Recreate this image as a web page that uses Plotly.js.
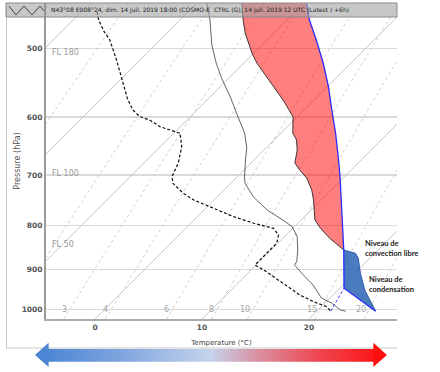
<!DOCTYPE html>
<html><head><meta charset="utf-8">
<script src="https://cdn.plot.ly/plotly-3.0.1.min.js"></script>
<style>html,body{margin:0;padding:0;background:#fff}#chart{width:440px;height:372px}</style>
</head><body><div id="chart"></div>
<script>
// ---- data (pressure hPa, temperature °C) ----
const envP = [440, 463.9, 480.1, 491.3, 506.3, 520.0, 546.4, 573.6, 599.7, 604.9, 626.2, 637.9, 655.1, 678.1, 690.8, 705.6, 728.5, 748.1, 771.7, 788.9, 806.5, 828.2, 854.3, 858.8, 861.8, 872.7, 908.1, 950.1, 1005];
const envT = [-16.1, -14.1, -12.7, -11.6, -10.2, -8.8, -5.8, -2.9, -0.4, -0.1, 1.1, 2.1, 3.1, 4.1, 5.2, 6.6, 8.2, 9.3, 10.5, 11.3, 12.6, 14.4, 16.8, 17.7, 18.2, 18.9, 20.5, 22.5, 25.5];
const parcelP = [1005, 945.7, 854.3, 754.0, 703.2, 672.7, 626.2, 589.1, 553.7, 520.0, 489.1, 463.9, 440];
const parcelT = [25.5, 20.4, 16.8, 12.2, 9.6, 7.9, 5.1, 2.6, 0.1, -2.6, -5.4, -7.9, -10.1];
const dewP = [454.1, 463.9, 478.5, 489.1, 515.8, 536.8, 553.7, 571.1, 589.1, 599.7, 604.9, 615.8, 626.7, 649.4, 678.1, 703.2, 715.7, 734.9, 748.1, 764.7, 782.0, 795.8, 806.5, 820.9, 839.2, 861.8, 889.0, 900.9, 933.3, 962.7, 980.0, 988.7, 993.1, 1005];
const dewT = [-28.5, -27.6, -26.0, -24.7, -22.2, -20.4, -19.0, -17.6, -16.0, -14.7, -13.5, -11.9, -9.4, -8.0, -6.8, -6.1, -5.4, -3.5, -1.9, 0.7, 3.4, 5.9, 8.2, 9.3, 9.9, 9.9, 9.9, 11.2, 14.3, 16.9, 18.8, 20.0, 20.5, 21.3];
const wetP = [440, 463.9, 495.6, 520.0, 541.1, 569.1, 600.3, 626.2, 651.6, 672.7, 703.7, 715.1, 742.1, 768.2, 788.9, 803.1, 824.6, 854.3, 881.3, 889.0, 908.1, 937.5, 970.4, 983.4, 1001.9, 1005];
const wetT = [-19.4, -17.2, -14.7, -12.6, -10.7, -8.1, -5.5, -3.4, -1.8, -0.8, 0.7, 1.3, 3.4, 5.9, 8.3, 9.8, 11.2, 12.5, 13.5, 13.6, 15.0, 17.2, 19.2, 20.6, 22.1, 22.7];
const lfcP = 854.3, lclP = 945.7;
const pressureTicks = [500, 600, 700, 800, 900, 1000];
const tempTicks = [0, 10, 20];
const isotherms = [-80, -70, -60, -50, -40, -30, -20, -10, 0, 10, 20, 30, 40];
const mixingRatios = [0.5, 1, 2, 3, 4, 6, 8, 10, 15, 20];
const mixingLabels = [3, 4, 6, 8, 10, 15, 20];
const flNames = ['FL 180', 'FL 100', 'FL 50'];
const flP = [506, 697, 843];
const headerText = 'N43°08 E008°24, dim. 14 juil. 2019 18:00 (COSMO-E  CTRL (G), 14 juil. 2019 12 UTC (Latest ) +6h)';

// ---- skew-T transform ----
const PB = 1026.1, PT = 443.4, K = 35.2;
const skew = (t, p) => t + K * Math.log(PB / p);
const tdMix = (w, p) => { const e = w * p / (622 + w); const l = Math.log(e / 6.112); return 243.5 * l / (17.67 - l); };

// pixel helpers for decorations
const L = 46, R = 397, TOP = 3, B = 319;
const fx = px => (px - L) / (R - L), fy = py => (B - py) / (B - TOP);

const traces = [];
{ const x = [], y = [];
  isotherms.forEach(t => { x.push(skew(t, PB), skew(t, 430), null); y.push(PB, 430, null); });
  traces.push({x, y, mode: 'lines', line: {color: '#cacaca', width: 1}, hoverinfo: 'skip'}); }
{ const x = [], y = [];
  mixingRatios.forEach(w => { for (let p = PB; p >= 430; p -= 8) { x.push(skew(tdMix(w, p), p)); y.push(p); } x.push(null); y.push(null); });
  traces.push({x, y, mode: 'lines', line: {color: '#c2c2c2', width: 0.8, dash: '3px,3px'}, hoverinfo: 'skip'}); }

{ const x = [], y = [];
  envP.forEach((p, i) => { if (p <= lfcP) { x.push(skew(envT[i], p)); y.push(p); } });
  parcelP.forEach((p, i) => { if (p <= lfcP) { x.push(skew(parcelT[i], p)); y.push(p); } });
  traces.push({x, y, mode: 'lines', fill: 'toself', fillcolor: 'rgba(255,0,0,0.5)', line: {width: 0}, hoverinfo: 'skip'}); }
{ const x = [], y = [];
  envP.forEach((p, i) => { if (p >= lfcP) { x.push(skew(envT[i], p)); y.push(p); } });
  parcelP.forEach((p, i) => { if (p >= lfcP) { x.push(skew(parcelT[i], p)); y.push(p); } });
  traces.push({x, y, mode: 'lines', fill: 'toself', fillcolor: 'rgba(30,90,175,0.8)', line: {width: 0}, hoverinfo: 'skip'}); }

traces.push({x: wetP.map((p, i) => skew(wetT[i], p)), y: wetP, mode: 'lines', line: {color: '#222', width: 0.7}, hoverinfo: 'skip'});
traces.push({x: dewP.map((p, i) => skew(dewT[i], p)), y: dewP, mode: 'lines', line: {color: '#111', width: 1.2, dash: '3px,2px'}, hoverinfo: 'skip'});
{ const ia = envP.map((p, i) => i).filter(i => envP[i] <= lfcP), ib = envP.map((p, i) => i).filter(i => envP[i] >= lfcP);
  traces.push({x: ia.map(i => skew(envT[i], envP[i])), y: ia.map(i => envP[i]), mode: 'lines', line: {color: '#111', width: 0.8}, hoverinfo: 'skip'});
  traces.push({x: ib.map(i => skew(envT[i], envP[i])), y: ib.map(i => envP[i]), mode: 'lines', line: {color: '#2f5fae', width: 1}, hoverinfo: 'skip'}); }
traces.push({x: parcelP.map((p, i) => skew(parcelT[i], p)), y: parcelP, mode: 'lines', line: {color: '#2a2aff', width: 1.3}, hoverinfo: 'skip'});
{ const iL = parcelP.indexOf(lclP), n = dewP.length - 1;
  traces.push({x: [skew(dewT[n], dewP[n]), skew(parcelT[iL], lclP)], y: [dewP[n], lclP], mode: 'lines', line: {color: '#3b3bff', width: 1, dash: '3px,2px'}, hoverinfo: 'skip'}); }

// ---- shapes ----
const shapes = [];
shapes.push({type: 'line', xref: 'paper', yref: 'paper', x0: fx(6.5), x1: fx(6.5), y0: fy(3), y1: fy(348), line: {color: '#c8c8c8', width: 1}});
shapes.push({type: 'line', xref: 'paper', yref: 'paper', x0: fx(6), x1: fx(397), y0: fy(348), y1: fy(348), line: {color: '#c8c8c8', width: 1}});
shapes.push({type: 'rect', xref: 'paper', yref: 'paper', x0: fx(6), x1: fx(397), y0: fy(17), y1: fy(3), fillcolor: 'rgba(164,164,164,0.6)', line: {color: '#8a8a8a', width: 1}});
shapes.push({type: 'line', xref: 'paper', yref: 'paper', x0: fx(45.5), x1: fx(45.5), y0: fy(3), y1: fy(17), line: {color: '#8a8a8a', width: 1}});
{ const zz = [[9, 6], [16, 15], [24, 6], [32, 15], [40, 6], [44, 11]];
  shapes.push({type: 'path', xref: 'paper', yref: 'paper', path: 'M' + zz.map(q => fx(q[0]) + ',' + fy(q[1])).join(' L'), line: {color: '#444', width: 1}}); }
{ const iF = parcelP.indexOf(lfcP), iL = parcelP.indexOf(lclP);
  shapes.push({type: 'line', xref: 'x', yref: 'y', xsizemode: 'pixel', xanchor: skew(parcelT[iF], lfcP), x0: 0, x1: 20, y0: Math.log10(lfcP), y1: Math.log10(lfcP), line: {color: '#333', width: 1}});
  shapes.push({type: 'line', xref: 'x', yref: 'y', xsizemode: 'pixel', xanchor: skew(parcelT[iL], lclP), x0: 0, x1: 28, y0: Math.log10(lclP), y1: Math.log10(lclP), line: {color: '#333', width: 1}}); }
const stops = [[0, [70, 130, 210]], [0.25, [128, 165, 222]], [0.5, [198, 212, 236]], [0.62, [215, 150, 168]], [0.8, [238, 72, 82]], [1, [255, 12, 12]]];
function col(t) {
  for (let i = 1; i < stops.length; i++) if (t <= stops[i][0]) {
    const a = stops[i - 1], b = stops[i], f = (t - a[0]) / (b[0] - a[0]);
    return 'rgb(' + a[1].map((v, k) => Math.round(v + (b[1][k] - v) * f)).join(',') + ')';
  }
  return 'rgb(255,12,12)';
}
for (let px = 48; px < 373.5; px += 2) {
  shapes.push({type: 'rect', xref: 'paper', yref: 'paper', x0: fx(px), x1: fx(px + 2.6), y0: fy(361.7), y1: fy(349), fillcolor: col((px + 1 - 35) / 352), line: {width: 0}});
}
shapes.push({type: 'path', xref: 'paper', yref: 'paper', path: `M${fx(35)},${fy(355)} L${fx(48.6)},${fy(342.7)} L${fx(48.6)},${fy(366.9)} Z`, fillcolor: col(0.02), line: {width: 0}});
shapes.push({type: 'path', xref: 'paper', yref: 'paper', path: `M${fx(387)},${fy(355)} L${fx(373.3)},${fy(342.7)} L${fx(373.3)},${fy(366.9)} Z`, fillcolor: col(0.99), line: {width: 0}});

// ---- annotations ----
const ann = [];
ann.push({xref: 'paper', yref: 'paper', x: fx(49), y: fy(10), xanchor: 'left', yanchor: 'middle', text: headerText, showarrow: false, font: {family: 'DejaVu Sans', size: 6, color: '#222'}});
flNames.forEach((t, i) => ann.push({xref: 'paper', yref: 'y', x: fx(50), y: Math.log10(flP[i]), xanchor: 'left', yanchor: 'middle', text: t, showarrow: false, font: {family: 'DejaVu Sans', size: 8, color: '#9a9a9a'}}));
mixingLabels.forEach(w => ann.push({xref: 'x', yref: 'y', x: skew(tdMix(w, 1000), 1000), y: 3, xanchor: 'right', yanchor: 'middle', xshift: -1, text: String(w), showarrow: false, font: {family: 'DejaVu Sans', size: 8, color: '#a8a8a8'}}));
{ const iF = parcelP.indexOf(lfcP), iL = parcelP.indexOf(lclP);
  ann.push({xref: 'x', yref: 'y', x: skew(parcelT[iF], lfcP), y: Math.log10(lfcP), xanchor: 'left', yanchor: 'middle', xshift: 19, yshift: 1.5, align: 'left', text: 'Niveau de<br>convection libre', showarrow: false, font: {family: 'Lato', size: 7.5, color: '#1a1a1a', weight: 'bold'}});
  ann.push({xref: 'x', yref: 'y', x: skew(parcelT[iL], lclP), y: Math.log10(lclP), xanchor: 'left', yanchor: 'middle', xshift: 23, yshift: 4, align: 'left', text: 'Niveau de<br>condensation', showarrow: false, font: {family: 'Lato', size: 7.5, color: '#1a1a1a', weight: 'bold'}}); }

const layout = {
  width: 440, height: 372, margin: {l: L, r: 440 - R, t: TOP, b: 372 - B},
  paper_bgcolor: '#fff', plot_bgcolor: '#fff', showlegend: false,
  xaxis: {range: [(L - 95) / 10.7, (R - 95) / 10.7], tickvals: tempTicks, ticktext: tempTicks.map(String), showgrid: false, zeroline: false,
    showline: true, linecolor: '#aaa', linewidth: 2, ticks: '',
    tickfont: {family: 'DejaVu Sans', size: 7.5, color: '#555', weight: 'bold'},
    title: {text: 'Temperature (°C)', font: {family: 'DejaVu Sans', size: 7, color: '#444'}, standoff: 9}},
  yaxis: {type: 'log', range: [Math.log10(PB), Math.log10(PT)], tickvals: pressureTicks, ticktext: pressureTicks.map(String),
    showgrid: true, gridcolor: '#dadada', gridwidth: 1.5, zeroline: false, showline: true, linecolor: '#9a9a9a', linewidth: 2, ticks: '',
    tickfont: {family: 'DejaVu Sans', size: 7.5, color: '#555', weight: 'bold'},
    title: {text: 'Pressure (hPa)', font: {family: 'DejaVu Sans', size: 8, color: '#555'}, standoff: 0}},
  shapes, annotations: ann
};
Plotly.newPlot('chart', traces, layout, {displayModeBar: false, staticPlot: true});
</script></body></html>
